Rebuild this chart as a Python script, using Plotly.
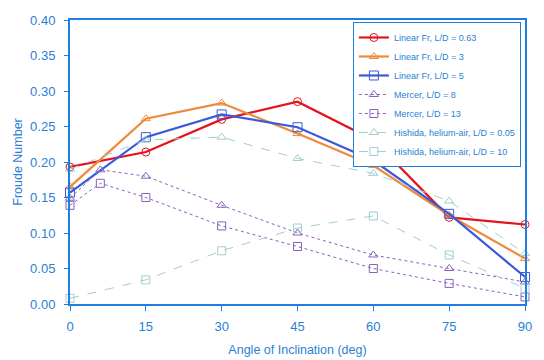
import plotly.graph_objects as go

angles = [0, 15, 30, 45, 60, 75, 90]
angles_mercer = [0, 6, 15, 30, 45, 60, 75, 90]

linear_063 = [0.193, 0.214, 0.260, 0.285, 0.231, 0.122, 0.112]
linear_3 = [0.165, 0.261, 0.283, 0.240, 0.195, 0.125, 0.064]
linear_5 = [0.157, 0.235, 0.267, 0.249, 0.202, 0.127, 0.038]
mercer_8 = [0.149, 0.189, 0.180, 0.139, 0.100, 0.069, 0.050, 0.031]
mercer_13 = [0.139, 0.170, 0.150, 0.110, 0.081, 0.050, 0.029, 0.010]
hishida_005 = [0.190, 0.231, 0.235, 0.205, 0.184, 0.145, 0.071]
hishida_10 = [0.008, 0.034, 0.075, 0.107, 0.124, 0.069, 0.022]

names = ["Linear Fr, L/D = 0.63", "Linear Fr, L/D = 3", "Linear Fr, L/D = 5",
         "Mercer, L/D = 8", "Mercer, L/D = 13",
         "Hishida, helium-air, L/D = 0.05", "Hishida, helium-air, L/D = 10"]

AX = "#1f7fe0"
TXT = "#2a7fd4"
FONT = "Liberation Sans, Arial, sans-serif"

series = [
    (angles, linear_063, "#e3151c", "solid", "circle-open", 2.2, 8),
    (angles, linear_3, "#f0893c", "solid", "triangle-up-open", 2.2, 8),
    (angles, linear_5, "#3a5ad8", "solid", "square-open", 2.2, 9),
    (angles_mercer, mercer_8, "#8a62b8", "dot", "triangle-up-open", 1, 8),
    (angles_mercer, mercer_13, "#8a62b8", "dot", "square-open", 1, 8),
    (angles, hishida_005, "#9fcfcf", "dash", "triangle-up-open", 1, 8),
    (angles, hishida_10, "#9fcfcf", "dash", "square-open", 1, 8),
]

fig = go.Figure()
for (xs, ys, col, dash, sym, w, ms), nm in zip(series, names):
    fig.add_trace(go.Scatter(
        x=xs, y=ys, name=nm, mode="lines+markers",
        line=dict(color=col, width=w, dash=dash),
        marker=dict(symbol=sym, size=ms, color=col, line=dict(width=1)),
        cliponaxis=False,
    ))

fig.update_layout(
    width=536, height=352,
    margin=dict(l=62, r=19, t=12, b=56),
    paper_bgcolor="white", plot_bgcolor="white",
    font=dict(family=FONT, color=TXT, size=12),
    legend=dict(
        x=0.991, y=0.993, xanchor="right", yanchor="top",
        bgcolor="white", bordercolor=AX, borderwidth=1,
        font=dict(size=9, color=TXT),
        tracegroupgap=0, itemwidth=30,
    ),
    showlegend=True,
    xaxis2=dict(overlaying="x", range=[0, 90], tickvals=angles, ticks="inside",
                ticklen=5, tickcolor=AX, showticklabels=False, showgrid=False,
                zeroline=False, showline=False),
    yaxis2=dict(overlaying="y", range=[0, 0.40], dtick=0.05, ticks="inside",
                ticklen=5, tickcolor=AX, showticklabels=False, showgrid=False,
                zeroline=False, showline=False),
)
fig.layout.xaxis.update(
    range=[0, 90], tickvals=angles, ticks="outside", ticklen=5, tickcolor=AX,
    showline=True, linecolor=AX, linewidth=2, mirror=True, showgrid=False,
    zeroline=False, automargin=False, ticklabelstandoff=4,
    title=dict(text="Angle of Inclination (deg)", font=dict(size=12.5, color=TXT), standoff=13),
    tickfont=dict(size=13, color=TXT),
)
fig.layout.yaxis.update(
    range=[0, 0.40], dtick=0.05, tickformat=".2f", ticks="outside", ticklen=4,
    tickcolor=AX,
    showline=True, linecolor=AX, linewidth=2, mirror=True, showgrid=False,
    zeroline=False, automargin=False, ticklabelstandoff=6,
    title=dict(text="Froude Number", font=dict(size=12.5, color=TXT), standoff=5),
    tickfont=dict(size=13, color=TXT),
)
fig.write_html("out.html")
